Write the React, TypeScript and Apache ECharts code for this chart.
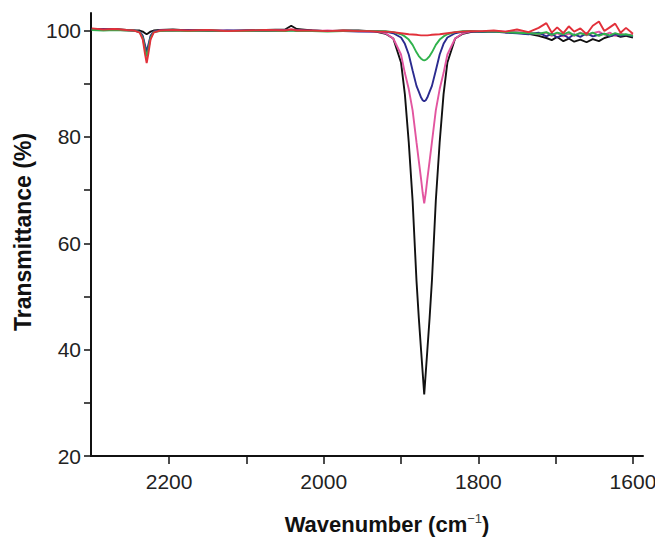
import React, { useEffect, useRef } from "react";
import * as echarts from "echarts";

// Wavenumber sample positions (cm-1), shared by all spectra
const wavenumbers = [
  2300, 2285, 2270, 2255, 2245, 2238, 2234, 2231, 2229, 2227,
  2224, 2220, 2212, 2195, 2175, 2150, 2125, 2100, 2075, 2050,
  2042, 2035, 2015, 1995, 1975, 1955, 1940, 1930, 1920, 1910,
  1900, 1895, 1890, 1885, 1880, 1877, 1874, 1872, 1870, 1868,
  1866, 1863, 1860, 1855, 1850, 1845, 1840, 1830, 1820, 1810,
  1795, 1780, 1765, 1750, 1735, 1722, 1712, 1705, 1698, 1690,
  1683, 1676, 1668, 1660, 1652, 1644, 1637, 1630, 1623, 1616,
  1609, 1600,
];

const blackT = [
  100.3, 100.2, 100.3, 100.1, 100.0, 100.0, 99.8, 99.5, 99.3, 99.5,
  99.8, 100.0, 100.1, 100.2, 100.0, 100.1, 99.9, 100.0, 100.1, 100.2,
  100.9, 100.3, 100.0, 99.9, 100.0, 100.0, 99.9, 99.7, 99.4, 98.5,
  94.0, 88.0, 79.0, 68.0, 53.0, 46.0, 39.8, 35.7, 31.6, 35.7,
  39.8, 46.0, 53.0, 68.0, 79.0, 88.0, 94.0, 98.5, 99.4, 99.7,
  99.8, 99.9, 99.7, 99.6, 99.4, 99.0, 98.6, 98.2, 98.8, 98.0,
  98.5, 97.9, 98.3, 97.8, 98.4, 98.0, 98.6, 98.9, 99.2, 98.8,
  99.0, 98.7,
];

const pinkT = [
  100.2, 100.1, 100.2, 100.0, 100.0, 99.7, 98.8, 96.8, 95.5, 96.8,
  98.8, 99.8, 100.0, 100.1, 99.9, 100.0, 100.0, 99.9, 100.0, 100.1,
  100.2, 100.1, 99.9, 100.0, 99.9, 99.9, 99.8, 99.8, 99.5, 98.5,
  95.5, 92.0, 89.0, 85.0, 79.0, 75.5, 72.0, 69.5, 67.5, 69.5,
  72.0, 75.5, 79.0, 85.0, 89.0, 92.0, 95.5, 98.5, 99.5, 99.8,
  99.8, 99.9, 99.8, 99.7, 99.6, 99.3, 99.6, 99.0, 99.5, 98.9,
  99.4, 99.0, 99.6, 99.1, 99.5, 99.8, 99.2, 99.6, 99.0, 99.4,
  99.1, 99.3,
];

const blueT = [
  100.2, 100.3, 100.1, 100.1, 100.0, 99.8, 99.0, 97.2, 96.0, 97.2,
  99.0, 99.8, 100.0, 100.0, 100.1, 99.9, 100.0, 100.0, 99.9, 100.0,
  100.1, 100.0, 100.0, 99.9, 99.9, 99.8, 99.8, 99.9, 99.8, 99.5,
  98.7, 97.5, 95.5, 92.5, 89.6, 88.5, 87.4, 86.9, 86.7, 86.9,
  87.4, 88.5, 89.6, 92.5, 95.5, 97.5, 98.7, 99.5, 99.8, 99.9,
  99.7, 99.8, 99.6, 99.5, 99.3, 99.6, 98.9, 99.4, 98.7, 99.2,
  98.6, 99.3, 98.8, 99.5, 98.9, 99.2, 99.4, 98.9, 99.3, 99.0,
  99.2, 98.9,
];

const greenT = [
  100.1, 100.0, 100.1, 100.0, 100.0, 99.7, 98.6, 96.4, 95.1, 96.4,
  98.6, 99.7, 99.9, 100.0, 99.9, 100.0, 99.9, 99.9, 100.0, 99.9,
  100.0, 99.9, 99.9, 99.8, 99.9, 99.9, 99.9, 99.9, 99.9, 99.7,
  99.3, 98.9, 98.3, 97.3, 95.9, 95.2, 94.7, 94.5, 94.4, 94.5,
  94.7, 95.2, 95.9, 97.3, 98.3, 98.9, 99.3, 99.7, 99.9, 99.9,
  99.8, 99.8, 99.7, 99.6, 99.5, 99.4, 99.7, 99.2, 99.6, 99.3,
  99.7, 99.1, 99.5, 99.2, 99.6, 99.0, 99.4, 99.1, 99.5, 99.2,
  99.3, 99.0,
];

const redT = [
  100.4, 100.2, 100.3, 100.1, 100.0, 99.6, 98.3, 95.5, 93.9, 95.5,
  98.3, 99.6, 100.0, 100.1, 100.0, 100.1, 99.9, 100.0, 100.1, 100.0,
  100.2, 100.0, 100.0, 99.9, 100.0, 99.9, 99.9, 99.8, 99.8, 99.7,
  99.5, 99.4, 99.3, 99.25, 99.2, 99.15, 99.1, 99.1, 99.1, 99.1,
  99.1, 99.15, 99.2, 99.25, 99.3, 99.4, 99.5, 99.7, 99.8, 99.9,
  99.9, 100.0, 99.8, 100.2, 99.7, 100.5, 101.4, 99.6, 100.6, 99.5,
  100.8, 99.8, 100.4, 99.3, 100.9, 101.7, 99.9, 100.6, 101.3, 99.6,
  100.5, 99.4,
];

const xTickValues = [2200, 2100, 2000, 1900, 1800, 1700, 1600];
const xLabelValues = [2200, 2000, 1800, 1600];
const yTickValues = [20, 30, 40, 50, 60, 70, 80, 90, 100];
const yLabelValues = [20, 40, 60, 80, 100];

const seriesDefs = [
  { name: "black", color: "#111111", values: blackT },
  { name: "pink", color: "#e2559f", values: pinkT },
  { name: "blue", color: "#2b2b8f", values: blueT },
  { name: "green", color: "#2fb24c", values: greenT },
  { name: "red", color: "#e2303a", values: redT },
];

export default function App() {
  const ref = useRef<HTMLDivElement>(null);
  useEffect(() => {
    if (!ref.current) return;
    const chart = echarts.init(ref.current, undefined, { renderer: "svg" });
    const font = "'Liberation Sans', Arial, Helvetica, sans-serif";
    chart.setOption({
      animation: false,
      backgroundColor: "#ffffff",
      grid: {
        left: 91,
        right: 12,
        top: 13,
        bottom: 81,
        containLabel: false,
        outerBoundsMode: "none",
      },
      xAxis: {
        type: "value",
        inverse: true,
        min: 1587,
        max: 2301,
        name: "{t|Wavenumber (cm}{s|−1}{t|)}",
        nameLocation: "middle",
        nameGap: 56,
        nameTextStyle: {
          padding: [0, 0, 0, 40],
          rich: {
            t: { fontSize: 22, fontWeight: "bold", color: "#111", fontFamily: font, lineHeight: 24 },
            s: { fontSize: 13, color: "#444", fontFamily: font, verticalAlign: "top", lineHeight: 12 },
          },
        },
        axisLine: { onZero: false, lineStyle: { color: "#111", width: 2 } },
        axisTick: { customValues: xTickValues, length: 8, lineStyle: { color: "#111", width: 1.5 } },
        axisLabel: {
          customValues: xLabelValues,
          formatter: (v: number) => String(v),
          fontSize: 21,
          color: "#222",
          fontFamily: font,
          margin: 15,
        },
        splitLine: { show: false },
      },
      yAxis: {
        type: "value",
        min: 20,
        max: 103.3,
        name: "Transmittance (%)",
        nameLocation: "middle",
        nameGap: 57,
        nameTextStyle: {
          fontSize: 23,
          fontWeight: "bold",
          color: "#111",
          fontFamily: font,
          padding: [0, 0, 0, 5],
        },
        axisLine: { onZero: false, lineStyle: { color: "#111", width: 2 } },
        axisTick: { customValues: yTickValues, length: 7, lineStyle: { color: "#111", width: 1.5 } },
        axisLabel: {
          customValues: yLabelValues,
          formatter: (v: number) => String(v),
          fontSize: 21,
          color: "#222",
          fontFamily: font,
          margin: 10,
          padding: [5, 0, 0, 0],
        },
        splitLine: { show: false },
      },
      series: seriesDefs.map((s) => ({
        name: s.name,
        type: "line",
        showSymbol: false,
        symbol: "none",
        lineStyle: { color: s.color, width: 1.9 },
        itemStyle: { color: s.color },
        data: wavenumbers.map((w, i) => [w, s.values[i]]),
      })),
    });
    return () => chart.dispose();
  }, []);
  return (
    <div
      ref={ref}
      style={{ position: "fixed", left: 0, top: 0, width: 655, height: 537, background: "#fff" }}
    />
  );
}
